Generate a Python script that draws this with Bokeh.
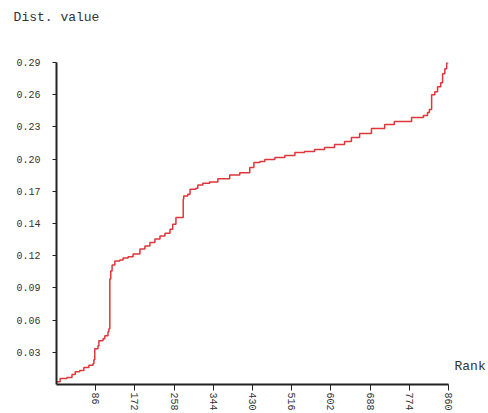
import math

from bokeh.embed import file_html
from bokeh.models import ColumnDataSource, FixedTicker, LinearAxis, Range1d
from bokeh.plotting import figure
from bokeh.resources import INLINE

# Sorted distance values: each entry gives the rank where a new level starts
ranks = [1, 8, 23, 34, 41, 51, 60, 71, 80, 82, 84, 91, 93, 102, 106, 113, 115,
         117, 119, 122, 128, 139, 146, 157, 168, 183, 194, 205, 216, 227, 238,
         249, 255, 262, 278, 279, 288, 293, 306, 310, 321, 336, 354, 380, 402,
         424, 433, 446, 457, 479, 501, 523, 544, 566, 588, 610, 632, 647, 665,
         691, 720, 741, 779, 805, 814, 818, 823, 830, 836, 843, 847, 852, 856,
         860]
dist_values = [0.0024, 0.0054, 0.0063, 0.0090, 0.0114, 0.0126, 0.0152, 0.0173,
               0.0188, 0.0224, 0.0323, 0.0350, 0.0395, 0.0413, 0.0440, 0.0475,
               0.0502, 0.0951, 0.1023, 0.1076, 0.1112, 0.1121, 0.1139, 0.1151,
               0.1175, 0.1220, 0.1247, 0.1280, 0.1310, 0.1337, 0.1363, 0.1399,
               0.1444, 0.1504, 0.1668, 0.1698, 0.1713, 0.1758, 0.1767, 0.1797,
               0.1812, 0.1824, 0.1854, 0.1886, 0.1908, 0.1955, 0.2000, 0.2009,
               0.2027, 0.2045, 0.2063, 0.2090, 0.2099, 0.2117, 0.2135, 0.2162,
               0.2189, 0.2225, 0.2260, 0.2305, 0.2341, 0.2368, 0.2404, 0.2422,
               0.2449, 0.2476, 0.2610, 0.2637, 0.2682, 0.2718, 0.2799, 0.2844,
               0.2897, 0.2900]

x_ticks = [86, 172, 258, 344, 430, 516, 602, 688, 774, 860]
y_ticks = [0.029, 0.058, 0.087, 0.116, 0.145, 0.174, 0.203, 0.232, 0.261, 0.29]
y_tick_labels = ["0.03", "0.06", "0.09", "0.12", "0.14", "0.17", "0.20",
                 "0.23", "0.26", "0.29"]

FONT = "Liberation Mono"
TEXT_COLOR = "#333333"

source = ColumnDataSource(data=dict(rank=ranks, value=dist_values))

p = figure(
    width=488, height=413,
    x_range=Range1d(0, 860), y_range=Range1d(0, 0.29),
    output_backend="svg", toolbar_location=None,
    min_border_left=56, min_border_right=39,
    min_border_top=62, min_border_bottom=27,
)
p.outline_line_color = None
p.xgrid.visible = False
p.ygrid.visible = False
p.background_fill_color = "white"
p.border_fill_color = "white"

p.step(x="rank", y="value", source=source, mode="after",
       line_color="#e0353b", line_width=1.5)

# Axes
for ax in (p.xaxis[0], p.yaxis[0]):
    ax.axis_line_color = "#222222"
    ax.axis_line_width = 2
    ax.major_tick_line_color = "#222222"
    ax.major_tick_line_width = 1
    ax.minor_tick_line_color = None
    ax.major_tick_in = 0
    ax.major_label_text_font = FONT
    ax.major_label_text_font_size = "10px"
    ax.major_label_text_color = TEXT_COLOR

p.xaxis.ticker = FixedTicker(ticks=x_ticks)
p.xaxis.major_tick_out = 6
p.xaxis.major_label_orientation = -math.pi / 2
p.xaxis.major_label_standoff = 2

p.yaxis.ticker = FixedTicker(ticks=y_ticks)
p.yaxis.major_label_overrides = dict(zip(y_ticks, y_tick_labels))
p.yaxis.major_tick_out = 4
p.yaxis.major_label_standoff = 12


def name_axis(text, at, standoff):
    """A bare axis that only shows one text, used to name an axis at its end."""
    ax = LinearAxis(ticker=FixedTicker(ticks=[at]),
                    major_label_overrides={at: text})
    ax.axis_line_color = None
    ax.major_tick_line_color = None
    ax.minor_tick_line_color = None
    ax.major_tick_out = 0
    ax.major_tick_in = 0
    ax.major_label_standoff = standoff
    ax.major_label_text_font = FONT
    ax.major_label_text_font_size = "13px"
    ax.major_label_text_color = TEXT_COLOR
    return ax


# "Dist. value" above the top-left corner, "Rank" right of the x axis end
p.add_layout(name_axis("Dist. value", 0, 38), "above")
p.add_layout(name_axis("Rank", 0.0166, 6), "right")

open("out.html", "w").write(file_html(p, INLINE))
